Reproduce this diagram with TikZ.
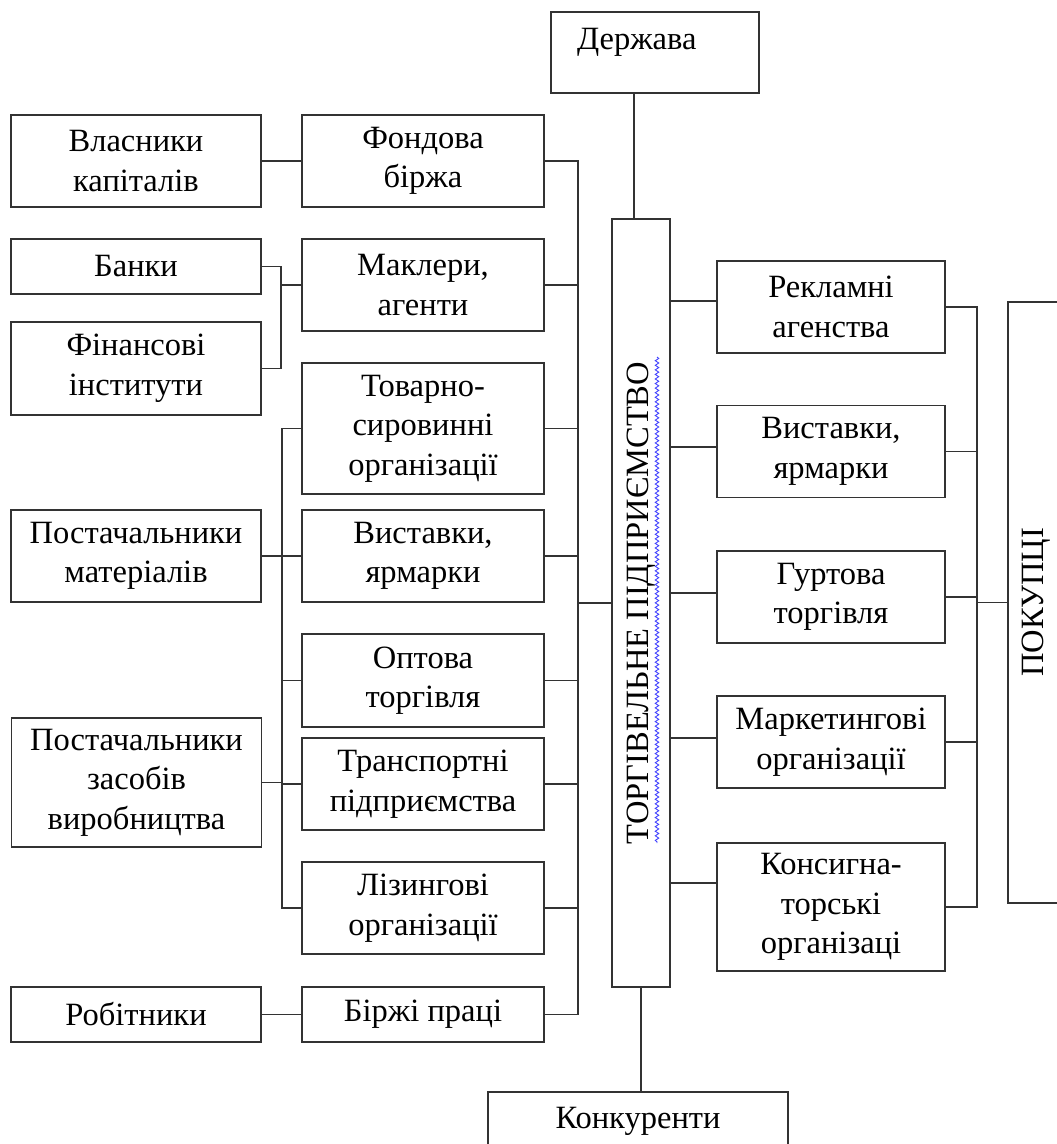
\documentclass[tikz,border=0pt]{standalone}
\usepackage{fontspec}
\setmainfont{Liberation Serif}
\usetikzlibrary{decorations.pathmorphing}

\begin{document}
\begin{tikzpicture}[x=0.02cm,y=-0.02cm,
  unit/.style={draw=black!80,line width=0.9pt,align=center,inner sep=0pt,minimum height=1.84cm},
  lcol/.style={unit,minimum width=5cm},
  mcol/.style={unit,minimum width=4.84cm},
  rcol/.style={unit,minimum width=4.56cm},
  link/.style={draw=black!80,line width=0.8pt},
  font=\fontsize{18.5}{22.5}\selectfont]
\useasboundingbox (0,0) rectangle (1057,1144);

% left column
\node[lcol] (owners) at (136,161) {Власники\\капіталів};
\node[lcol,minimum height=1.1cm] (banks) at (136,266.5) {Банки};
\node[lcol,minimum height=1.86cm] (finance) at (136,368.5) {Фінансові\\інститути};
\node[lcol] (suppmat) at (136,556) {Постачальники\\матеріалів};
\node[lcol,minimum height=2.58cm] (suppmeans) at (136.5,782.5) {Постачальники\\засобів\\виробництва};
\node[lcol,minimum height=1.1cm] (workers) at (136,1014.5) {Робітники};

% middle column
\node[mcol] (stock) at (423,161) {Фондова\\біржа};
\node[mcol] (brokers) at (423,285) {Маклери,\\агенти};
\node[mcol,minimum height=2.62cm] (commod) at (423,428.5) {Товарно-\\сировинні\\організації};
\node[mcol] (fairs) at (423,556) {Виставки,\\ярмарки};
\node[mcol,minimum height=1.86cm] (wholesale) at (423,680.5) {Оптова\\торгівля};
\node[mcol] (transport) at (423,784) {Транспортні\\підприємства};
\node[mcol] (leasing) at (423,908) {Лізингові\\організації};
\node[mcol,minimum height=1.1cm] (labour) at (423,1014.5) {Біржі праці};

% centre
\node[unit,minimum width=1.16cm,minimum height=15.36cm] (firm) at (641,603) {\rotatebox{90}{ТОРГІВЕЛЬНЕ ПІДПРИЄМСТВО}};
\node[unit,minimum width=4.16cm,minimum height=1.62cm,align=left,text width=3.12cm,text height=13pt,text depth=16pt] (state) at (655,52.5) {Держава};
\node[unit,minimum width=6cm,minimum height=1.16cm] (rivals) at (638,1121) {Конкуренти};
\draw[blue!75,line width=0.5pt,decorate,decoration={snake,amplitude=1pt,segment length=2.6pt}] (657,357) -- (657,843);

% right column
\node[rcol] (adverts) at (831,307) {Рекламні\\агенства};
\node[rcol] (rfairs) at (831,451.5) {Виставки,\\ярмарки};
\node[rcol] (bulk) at (831,597) {Гуртова\\торгівля};
\node[rcol] (marketing) at (831,742) {Маркетингові\\організації};
\node[rcol,minimum height=2.56cm] (consign) at (831,907) {Консигна-\\торські\\організаці};
\node[unit,minimum width=1.12cm,minimum height=12.02cm] (buyers) at (1036,602.5) {\rotatebox{90}{ПОКУПЦІ}};

% left links
\draw[link] (owners) -- (stock);
\draw[link] (workers) -- (labour);
\coordinate (fj) at (281,285);
\draw[link] (banks.east) -| (fj);
\draw[link] (finance.east) -| (fj) -- (brokers.west);
\coordinate (lbus) at (282,0);
\draw[link] (commod.west) -| (lbus |- leasing.west) -- (leasing.west);
\foreach \n in {fairs,wholesale,transport}
  \draw[link] (\n.west) -- (\n.west -| lbus);
\draw[link] (suppmat.east) -- (suppmat.east -| lbus);
\draw[link] (suppmeans.east) -- (suppmeans.east -| lbus);

% middle bus
\coordinate (mbus) at (578,0);
\draw[link] (stock.east) -| (mbus |- labour.east) -- (labour.east);
\foreach \n in {brokers,commod,fairs,wholesale,transport,leasing}
  \draw[link] (\n.east) -- (\n.east -| mbus);
\draw[link] (firm.west) -- (firm.west -| mbus);

% state and rivals
\coordinate (ftop) at ([xshift=-0.14cm]firm.north);
\draw[link] (ftop) -- (ftop |- state.south);
\draw[link] (firm.south) -- (firm.south |- rivals.north);

% right links
\foreach \n/\s in {adverts/0.12,rfairs/0.09,bulk/0.08,marketing/0.08,consign/0.48}{
  \coordinate (a) at ([yshift=\s cm]\n.west);
  \draw[link] (a) -- (a -| firm.east);
}
\coordinate (rbus) at (977,0);
\draw[link] (adverts.east) -| (rbus |- consign.east) -- (consign.east);
\foreach \n in {rfairs,bulk,marketing}
  \draw[link] (\n.east) -- (\n.east -| rbus);
\draw[link] (buyers.west) -- (buyers.west -| rbus);
\end{tikzpicture}
\end{document}
